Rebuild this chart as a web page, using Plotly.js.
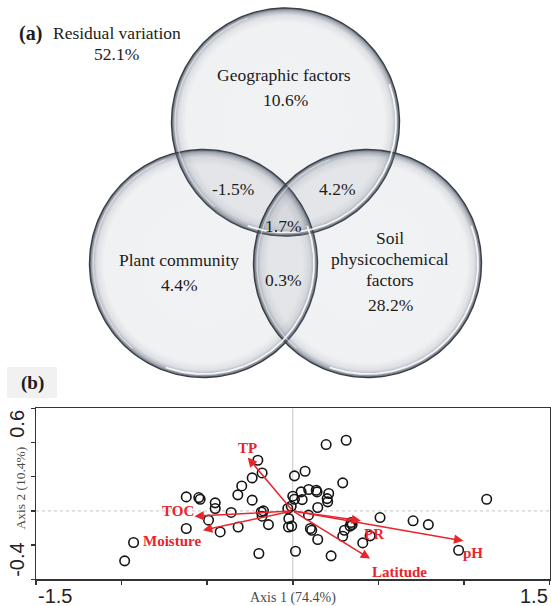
<!DOCTYPE html>
<html>
<head>
<meta charset="utf-8">
<script src="https://cdn.plot.ly/plotly-3.0.1.min.js"></script>
<style>
  html, body { margin: 0; padding: 0; background: #ffffff; }
  #chart { width: 551px; height: 606px; }
</style>
</head>
<body>
<div id="chart"></div>
<script>
// ---------- (a) variation partitioning ----------
const vennSetNames = ['Geographic factors', 'Plant community', 'Soil physicochemical factors'];
const vennUniqueShares = [10.6, 4.4, 28.2];
const residualName = 'Residual variation';
const residualShare = 52.1;
// shared fractions: geo∩plant, geo∩soil, all three, plant∩soil
const sharedShares = [-1.5, 4.2, 1.7, 0.3];

// ---------- (b) ordination ----------
const siteAxis1 = [
  -0.204, -0.179, -0.237, -0.298, -0.321, -0.237, -0.622, -0.549, -0.541, -0.453,
  -0.453, -0.360, -0.492, -0.622, -0.424, -0.319, -0.184, -0.171, -0.179, -0.142,
  -0.198, -0.930, -0.982,
   0.195,  0.312,  0.010,  0.072,  0.292,  0.000,  0.010,  0.049,  0.093,  0.137,
   0.142,  0.210,  0.201,  0.204,  0.055,  0.146, -0.029, -0.009,  0.092, -0.023,
  -0.025, -0.006,  0.103,  0.111,  0.146,  0.016,  0.224,  0.341,  0.347,  0.335,
   0.302,  0.292,  0.409,  0.452,  0.510,  0.703,  0.792,  0.969,  1.133
];
const siteAxis2 = [
   0.296,  0.222,  0.193,  0.146,  0.094,  0.063,  0.082,  0.078,  0.068,  0.047,
   0.014, -0.009, -0.054, -0.103, -0.123, -0.094, -0.006,  0.000, -0.031, -0.080,
  -0.249, -0.185, -0.292,
   0.388,  0.413,  0.205,  0.232,  0.164,  0.086,  0.068,  0.111,  0.125,  0.121,
   0.111,  0.102,  0.072,  0.053,  0.066,  0.020,  0.014,  0.027, -0.025, -0.045,
  -0.094, -0.089, -0.103, -0.113, -0.167, -0.236, -0.263, -0.068, -0.080, -0.089,
  -0.113, -0.148, -0.187, -0.146, -0.039, -0.058, -0.080, -0.230,  0.068
];
const vectorNames = ['TP', 'TOC', 'Moisture', 'PR', 'pH', 'Latitude'];
const vectorAxis1 = [-0.263, -0.574, -0.525, 0.399, 0.997, 0.452];
const vectorAxis2 = [ 0.312, -0.031, -0.113, -0.058, -0.175, -0.279];
const axisTitles = ['Axis 1 (74.4%)', 'Axis 2 (10.4%)'];
const xRange = [-1.5, 1.5];
const yRange = [-0.4, 0.6];
const xTicks = [-1.5, -1, -0.5, 0, 0.5, 1, 1.5];
const yTicks = [-0.4, -0.2, 0, 0.2, 0.4, 0.6];

// ---------- styling ----------
const W = 551, H = 606;
const SERIF = 'Liberation Serif, Times New Roman, serif';
const SANS = 'Liberation Sans, Arial, sans-serif';
const RED = '#e8252c';
const TEXT = '#1c1c1c';
const px = v => v / W;            // pixel -> paper x
const py = v => 1 - v / H;        // pixel -> paper y
const pct = v => v.toFixed(1) + '%';

// Venn geometry in panel pixels (x2 / y2 map 1 unit = 1 px)
const VENN_H = 380;
const R = 114;
const centres = [[285.5, 122], [203.5, 263.5], [367.5, 263.5]];

function arc(cx, cy, r, a0, a1, n) {
  const xs = [], ys = [];
  for (let i = 0; i <= n; i++) {
    const t = (a0 + (a1 - a0) * i / n) * Math.PI / 180;
    xs.push(cx + r * Math.cos(t));
    ys.push(cy + r * Math.sin(t));
  }
  return {xs, ys};
}

const traces = [];
const shade = 'rgba(118,128,144,';
centres.forEach(([cx, cy]) => {
  const c = arc(cx, cy, R, 0, 360, 240);
  traces.push({
    type: 'scatter', mode: 'lines', xaxis: 'x2', yaxis: 'y2',
    x: c.xs, y: c.ys, fill: 'toself', hoverinfo: 'skip', showlegend: false,
    line: {color: '#3a4049', width: 1.4},
    fillgradient: {
      type: 'radial',
      colorscale: [
        [0, shade + '0.10)'], [0.87, shade + '0.11)'], [0.935, shade + '0.24)'],
        [0.975, 'rgba(92,101,116,0.52)'], [1, 'rgba(62,70,82,0.85)']
      ]
    }
  });
});
// glassy highlight just inside each rim (screen y grows downwards)
centres.forEach(([cx, cy]) => {
  const a = arc(cx, cy, R - 3.5, -20, 110, 80);
  traces.push({
    type: 'scatter', mode: 'lines', xaxis: 'x2', yaxis: 'y2',
    x: a.xs, y: a.ys, hoverinfo: 'skip', showlegend: false,
    line: {color: 'rgba(255,255,255,0.85)', width: 1.8}
  });
  const b = arc(cx, cy, R - 3.5, 130, 250, 80);
  traces.push({
    type: 'scatter', mode: 'lines', xaxis: 'x2', yaxis: 'y2',
    x: b.xs, y: b.ys, hoverinfo: 'skip', showlegend: false,
    line: {color: 'rgba(255,255,255,0.45)', width: 1.4}
  });
});

// ordination sites
traces.push({
  type: 'scatter', mode: 'markers', xaxis: 'x', yaxis: 'y',
  x: siteAxis1, y: siteAxis2, showlegend: false, hoverinfo: 'x+y',
  marker: {symbol: 'circle-open', size: 9.5, color: '#151515', line: {width: 1.6, color: '#151515'}}
});

// ---------- annotations ----------
const ann = [];
function vtext(text, x, y, opts) {
  ann.push(Object.assign({
    text, x, y, xref: 'x2', yref: 'y2', showarrow: false,
    xanchor: 'center', yanchor: 'middle', borderpad: 0,
    font: {family: SERIF, size: 17.5, color: TEXT}
  }, opts || {}));
}
vtext('<b>(a)</b>', 30, 33, {font: {family: SERIF, size: 20, color: TEXT}});
vtext(residualName, 116.7, 33.3);
vtext(pct(residualShare), 116.7, 54);
vtext(vennSetNames[0], 284, 75);
vtext(pct(vennUniqueShares[0]), 285.3, 100);
vtext(vennSetNames[1], 178.8, 260);
vtext(pct(vennUniqueShares[1]), 179, 285);
const soilLines = ['Soil', 'physicochemical', 'factors'];
[238.3, 259, 279.7].forEach((y, i) => vtext(soilLines[i], 390, y));
vtext(pct(vennUniqueShares[2]), 390, 304.5);
vtext(pct(sharedShares[0]), 233.3, 189.3);
vtext(pct(sharedShares[1]), 337.2, 189.3);
vtext(pct(sharedShares[2]), 283.3, 226);
vtext(pct(sharedShares[3]), 283.3, 280);

// panel (b) tag
ann.push({text: '<b>(b)</b>', xref: 'paper', yref: 'paper', x: px(32), y: py(383), showarrow: false,
  xanchor: 'center', yanchor: 'middle', font: {family: SERIF, size: 19, color: TEXT}});

// axis end labels
const tickFont = {family: SANS, size: 20, color: '#222'};
ann.push({text: String(xRange[0]), xref: 'x', yref: 'paper', x: xRange[0], y: py(595.5), xanchor: 'left', yanchor: 'middle', showarrow: false, font: tickFont});
ann.push({text: String(xRange[1]), xref: 'x', yref: 'paper', x: xRange[1], y: py(595.5), xanchor: 'right', yanchor: 'middle', showarrow: false, font: tickFont});
ann.push({text: String(yRange[1]), xref: 'paper', yref: 'y', x: px(17.5), y: yRange[1], xanchor: 'center', yanchor: 'top', textangle: -90, showarrow: false, font: tickFont});
ann.push({text: String(yRange[0]), xref: 'paper', yref: 'y', x: px(17.5), y: yRange[0], xanchor: 'center', yanchor: 'bottom', textangle: -90, showarrow: false, font: tickFont});
// axis titles
ann.push({text: axisTitles[0], xref: 'x', yref: 'paper', x: 0, y: py(598), xanchor: 'center', yanchor: 'middle', showarrow: false, font: {family: SERIF, size: 14, color: '#4a4a4a'}});
ann.push({text: axisTitles[1], xref: 'paper', yref: 'paper', x: px(19.5), y: py(488), xanchor: 'center', yanchor: 'middle', textangle: -90, showarrow: false, font: {family: SERIF, size: 13.5, color: '#4a4a4a'}});

// environmental vectors and their labels (label shift in px from arrow tip)
const labelShift = {TP: [0, 10], TOC: [-17, 5], Moisture: [-31, -11], PR: [13, -13], pH: [10, -12], Latitude: [29, -13]};
vectorNames.forEach((name, i) => {
  ann.push({
    text: '', xref: 'x', yref: 'y', axref: 'x', ayref: 'y',
    x: vectorAxis1[i], y: vectorAxis2[i], ax: 0, ay: 0,
    showarrow: true, arrowhead: 2, arrowsize: 1.25, arrowwidth: 1.5, arrowcolor: RED, standoff: 0, startstandoff: 0
  });
  const s = labelShift[name];
  ann.push({
    text: '<b>' + name + '</b>', xref: 'x', yref: 'y', x: vectorAxis1[i], y: vectorAxis2[i],
    xshift: s[0], yshift: s[1], showarrow: false, xanchor: 'center', yanchor: 'middle',
    font: {family: SERIF, size: 15, color: RED}
  });
});

const axisLine = {showline: true, mirror: true, linecolor: '#333', linewidth: 1.5,
  ticks: 'outside', ticklen: 4, tickwidth: 1.5, tickcolor: '#333',
  showticklabels: false, showgrid: false, zeroline: false, fixedrange: true};

const layout = {
  width: W, height: H,
  margin: {l: 0, r: 0, t: 0, b: 0, pad: 0},
  paper_bgcolor: '#ffffff', plot_bgcolor: 'rgba(0,0,0,0)',
  showlegend: false,
  xaxis: Object.assign({domain: [px(36), px(549.5)], range: xRange, tickvals: xTicks, anchor: 'y'}, axisLine),
  yaxis: Object.assign({domain: [py(579.3), py(408.3)], range: yRange, tickvals: yTicks, anchor: 'x'}, axisLine),
  xaxis2: {domain: [0, 1], range: [0, W], visible: false, fixedrange: true, anchor: 'y2'},
  yaxis2: {domain: [py(VENN_H), 1], range: [VENN_H, 0], visible: false, fixedrange: true, anchor: 'x2'},
  shapes: [
    {type: 'rect', xref: 'paper', yref: 'paper', x0: px(7), x1: px(57), y0: py(398), y1: py(367),
     fillcolor: '#f1f1f1', line: {width: 0}, layer: 'below'},
    {type: 'line', xref: 'x', yref: 'y', x0: xRange[0], x1: xRange[1], y0: 0, y1: 0,
     line: {color: '#b4b4b4', width: 0.8, dash: 'dot'}, layer: 'below'},
    {type: 'line', xref: 'x', yref: 'y', x0: 0, x1: 0, y0: yRange[0], y1: yRange[1],
     line: {color: '#c4c4c4', width: 1}, layer: 'below'}
  ],
  annotations: ann
};

Plotly.newPlot('chart', traces, layout, {staticPlot: true, displayModeBar: false});
</script>
</body>
</html>
